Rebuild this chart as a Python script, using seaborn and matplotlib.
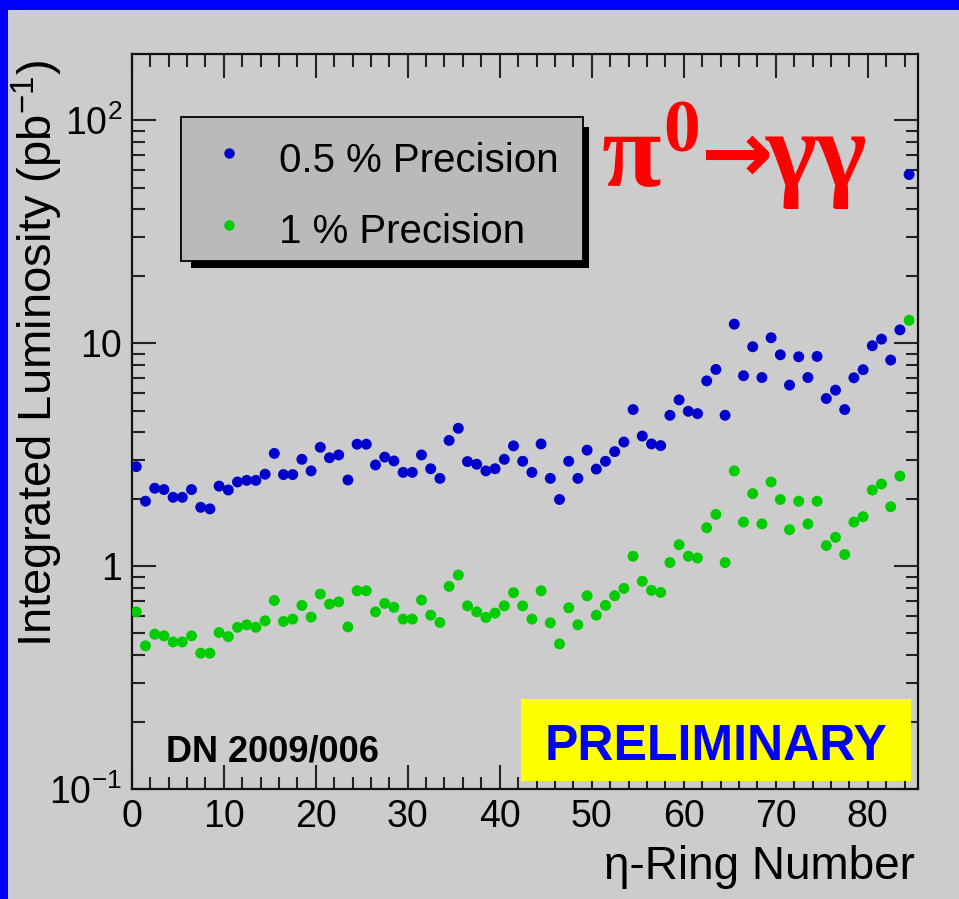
import numpy as np
import pandas as pd
import matplotlib
matplotlib.use("Agg")
import matplotlib.pyplot as plt
import seaborn as sns
from matplotlib import font_manager
from matplotlib.patches import Rectangle
from matplotlib.lines import Line2D
from matplotlib.ticker import FixedLocator, FixedFormatter, MultipleLocator, LogLocator, NullFormatter

# ---------------- data ----------------
ring_centres = np.arange(85) + 0.5          # eta-ring bin centres 0.5 ... 84.5

lumi_half_percent = [
    2.80, 1.96, 2.24, 2.21, 2.04, 2.04, 2.21, 1.84, 1.81, 2.29, 2.20, 2.39, 2.43, 2.43, 2.59, 3.21, 2.58,
    2.58, 3.02, 2.68, 3.42, 3.07, 3.16, 2.44, 3.53, 3.53, 2.85, 3.09, 2.97, 2.64, 2.64, 3.16, 2.74, 2.48,
    3.67, 4.16, 2.95, 2.87, 2.68, 2.74, 3.02, 3.47, 2.96, 2.64, 3.54, 2.48, 1.995, 2.96, 2.48, 3.32, 2.73,
    2.96, 3.27, 3.61, 5.05, 3.84, 3.54, 3.48, 4.76, 5.58, 4.96, 4.84, 6.79, 7.64, 4.76, 12.2, 7.16, 9.66,
    7.03, 10.6, 8.89, 6.50, 8.71, 7.03, 8.74, 5.66, 6.17, 5.05, 7.01, 7.62, 9.76, 10.45, 8.42, 11.5, 57.2,
]
lumi_one_percent = [
    0.625, 0.44, 0.496, 0.488, 0.458, 0.458, 0.488, 0.408, 0.408, 0.505, 0.484, 0.533, 0.547, 0.533, 0.570, 0.703, 0.566,
    0.580, 0.668, 0.592, 0.751, 0.677, 0.693, 0.535, 0.777, 0.777, 0.625, 0.682, 0.655, 0.580, 0.580, 0.706, 0.604, 0.560,
    0.813, 0.914, 0.665, 0.625, 0.590, 0.617, 0.665, 0.762, 0.665, 0.580, 0.777, 0.558, 0.449, 0.652, 0.547, 0.738, 0.604,
    0.668, 0.738, 0.796, 1.11, 0.857, 0.780, 0.764, 1.04, 1.25, 1.11, 1.09, 1.49, 1.71, 1.04, 2.68, 1.58, 2.12,
    1.55, 2.39, 1.995, 1.46, 1.96, 1.55, 1.96, 1.24, 1.35, 1.13, 1.58, 1.67, 2.20, 2.34, 1.85, 2.54, 12.7,
]
series_names = ["0.5 % Precision", "1 % Precision"]
series_colors = ["#0000cc", "#00cc00"]

y_tick_values = [0.1, 1, 10, 100]
y_tick_labels = ["$10^{-1}$", "1", "10", "$10^{2}$"]

x_label = "η-Ring Number"
y_label = "Integrated Luminosity (pb$^{-1}$)"

df = pd.concat([
    pd.DataFrame({"ring": ring_centres, "lumi": lumi_half_percent, "precision": series_names[0]}),
    pd.DataFrame({"ring": ring_centres, "lumi": lumi_one_percent, "precision": series_names[1]}),
], ignore_index=True)

# ---------------- style ----------------
sns.set_style("ticks")
available = {f.name for f in font_manager.fontManager.ttflist}
SANS = "Liberation Sans" if "Liberation Sans" in available else "DejaVu Sans"
HAS_NARROW = "Liberation Sans Narrow" in available
YLABEL_FONT = "Liberation Sans Narrow" if HAS_NARROW else SANS
YLABEL_SIZE = 42 if HAS_NARROW else 34
plt.rcParams["font.family"] = [SANS, "DejaVu Sans"]
plt.rcParams["text.color"] = "black"
plt.rcParams["axes.labelcolor"] = "black"
plt.rcParams["mathtext.fontset"] = "custom"
plt.rcParams["mathtext.rm"] = SANS
plt.rcParams["mathtext.it"] = SANS + ":italic"
plt.rcParams["mathtext.bf"] = SANS + ":bold"

W, H = 959, 899
GREY = "#cccccc"
fig = plt.figure(figsize=(W / 100, H / 100), dpi=100)
fig.patch.set_facecolor("#0000ff")


def fx(px):
    return px / W


def fy(py):
    return 1 - py / H


# grey canvas inside the blue border (drawn below the axes)
fig.patches.append(Rectangle((fx(8), 0), 1 - fx(8), fy(10), transform=fig.transFigure,
                             facecolor=GREY, edgecolor="none", zorder=-5))

L, R, T, B = 131.7, 918.3, 54.3, 789.3
ax = fig.add_axes([fx(L), fy(B), fx(R) - fx(L), fy(T) - fy(B)])
ax.set_facecolor(GREY)

sns.scatterplot(data=df, x="ring", y="lumi", hue="precision", palette=series_colors,
                s=62, linewidth=0, legend=False, ax=ax, zorder=3)

ax.set_yscale("log")
ax.set_xlim(0, 85.5)
ax.set_ylim(0.1, 198)

ax.xaxis.set_major_locator(MultipleLocator(10))
ax.xaxis.set_minor_locator(MultipleLocator(2))
ax.yaxis.set_major_locator(FixedLocator(y_tick_values))
ax.yaxis.set_major_formatter(FixedFormatter(y_tick_labels))
ax.yaxis.set_minor_locator(LogLocator(base=10, subs=np.arange(2, 10)))
ax.yaxis.set_minor_formatter(NullFormatter())

ax.tick_params(which="both", direction="in", top=True, right=True, width=1.5,
               color="#222222", labelsize=27, pad=7, labelcolor="black")
ax.tick_params(which="major", length=17)
ax.tick_params(which="minor", length=9)
for sp in ax.spines.values():
    sp.set_linewidth(1.6)
    sp.set_color("#111111")

ax.set_xlabel(x_label, fontsize=33, loc="right")
ax.xaxis.label.set_va("baseline")
ax.xaxis.set_label_coords((915 - L) / (R - L), (B - 879) / (B - T))

ax.set_ylabel(y_label, fontsize=YLABEL_SIZE, loc="top", family=[YLABEL_FONT, "DejaVu Sans"])
ax.yaxis.label.set_va("center")
ax.yaxis.set_label_coords((37 - L) / (R - L), (B - 60) / (B - T))

# ---------------- legend (ROOT style box with shadow) ----------------
lx0, lx1, ly0, ly1 = 180.7, 583.3, 117, 261
fig.patches.append(Rectangle((fx(lx0 + 10), fy(ly1 + 7)), fx(lx1 + 6) - fx(lx0 + 10), fy(ly0 + 10) - fy(ly1 + 7),
                             transform=fig.transFigure, facecolor="black", edgecolor="none", zorder=5))
fig.patches.append(Rectangle((fx(lx0), fy(ly1)), fx(lx1) - fx(lx0), fy(ly0) - fy(ly1),
                             transform=fig.transFigure, facecolor="#bababa", edgecolor="black",
                             linewidth=1.3, zorder=6))
for name, col, ymark, ybase in zip(series_names, series_colors, [152.7, 225], [172, 243]):
    fig.add_artist(Line2D([fx(229.3)], [fy(ymark)], transform=fig.transFigure, marker="o",
                          markersize=7.5, markerfacecolor=col, markeredgecolor="none",
                          linestyle="none", zorder=7))
    fig.text(fx(279), fy(ybase), name, fontsize=29, va="baseline", ha="left", zorder=7, color="black")

# ---------------- annotations ----------------
SERIF = ["Liberation Serif", "DejaVu Serif"]
fig.text(fx(602), fy(186), "π", fontsize=78, fontweight="bold", color="red",
         family=SERIF, ha="left", va="baseline", zorder=7)
fig.text(fx(663), fy(151.7), "0", fontsize=53, fontweight="bold", color="red",
         family=SERIF, ha="left", va="baseline", zorder=7)
fig.text(fx(736), fy(158), "→", fontsize=62, fontweight="bold", color="red",
         family=["DejaVu Sans"], ha="center", va="center", zorder=7)
fig.text(fx(766), fy(186), "γγ", fontsize=78, fontweight="bold", color="red",
         family=SERIF, ha="left", va="baseline", zorder=7)

fig.text(fx(166), fy(762), "DN 2009/006", fontsize=26, fontweight="bold", color="black",
         ha="left", va="baseline", zorder=7)

fig.patches.append(Rectangle((fx(520.7), fy(781)), fx(911) - fx(520.7), fy(699) - fy(781),
                             transform=fig.transFigure, facecolor="#ffff00", edgecolor="none", zorder=6))
fig.text(fx(716), fy(760), "PRELIMINARY", fontsize=36, fontweight="bold", color="#0000ff",
         ha="center", va="baseline", zorder=7)

fig.savefig("out.png", dpi=100, facecolor=fig.get_facecolor())
